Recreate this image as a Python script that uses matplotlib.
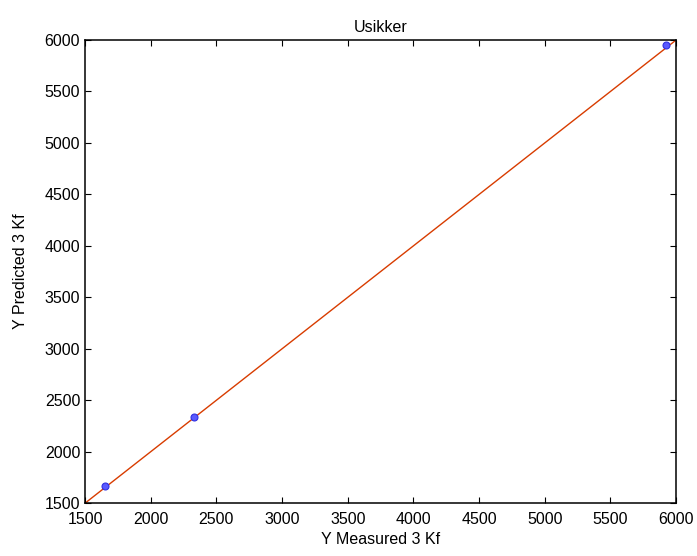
import matplotlib
matplotlib.use('Agg')
import matplotlib.pyplot as plt

plt.rcParams['font.family'] = ['Liberation Sans', 'DejaVu Sans']

# measured vs predicted values
y_measured = [1652, 2328, 5925]
y_predicted = [1665, 2340, 5950]
fit_x = [1500, 6000]
fit_y = [1500, 6000]

fig = plt.figure(figsize=(6.97, 5.56), dpi=100)
ax = fig.add_axes([0.122, 0.095, 0.848, 0.833])

ax.plot(fit_x, fit_y, color='#d83c00', linewidth=1.0)
ax.plot(y_measured, y_predicted, 'o', markersize=5,
        markerfacecolor='#5a5aff', markeredgecolor='#3030e0', markeredgewidth=0.8)

ax.set_xlim(1500, 6000)
ax.set_ylim(1500, 6000)
ax.set_xticks(range(1500, 6001, 500))
ax.set_yticks(range(1500, 6001, 500))
ax.tick_params(direction='in', top=True, right=True, labelsize=11.5, length=4)
ax.tick_params(axis='x', pad=6)
for s in ax.spines.values():
    s.set_linewidth(1.1)

ax.set_xlabel('Y Measured 3 Kf', fontsize=11.5, labelpad=4)
ax.set_ylabel('Y Predicted 3 Kf', fontsize=11.5, labelpad=12)
ax.set_title('Usikker', fontsize=11.5, pad=6)

plt.savefig('out.png', dpi=100)
